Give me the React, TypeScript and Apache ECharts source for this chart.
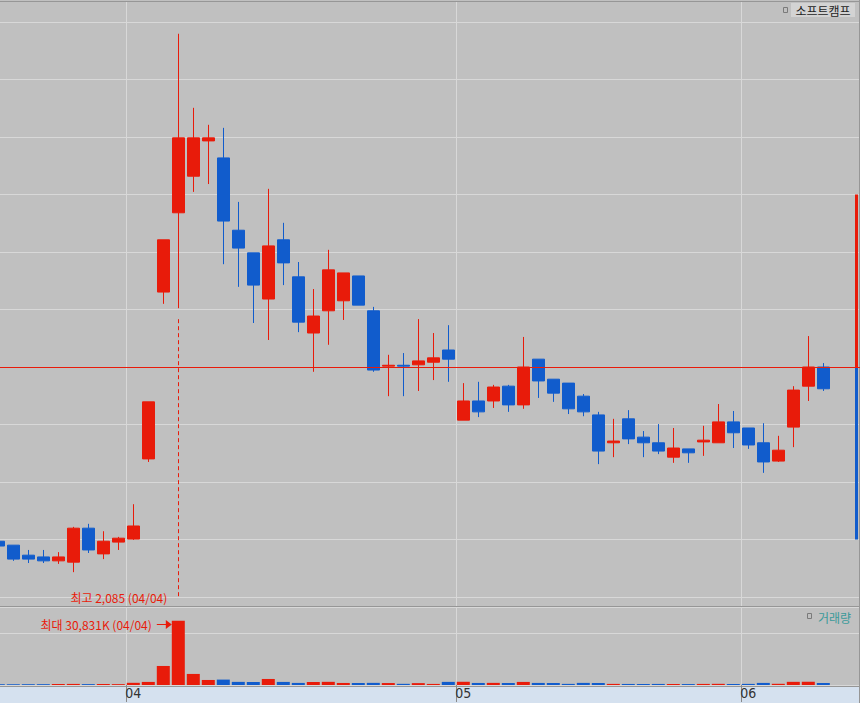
import React, { useEffect, useRef } from 'react';
import * as echarts from 'echarts';

// ---- data (소프트캠프 daily) ----
const dates = [
  '2025-03-19', '2025-03-20', '2025-03-21', '2025-03-24', '2025-03-25', '2025-03-26', '2025-03-27', '2025-03-28',
  '2025-03-31', '2025-04-01', '2025-04-02', '2025-04-03', '2025-04-04', '2025-04-07', '2025-04-08', '2025-04-09',
  '2025-04-10', '2025-04-11', '2025-04-14', '2025-04-15', '2025-04-16', '2025-04-17', '2025-04-18', '2025-04-21',
  '2025-04-22', '2025-04-23', '2025-04-24', '2025-04-25', '2025-04-28', '2025-04-29', '2025-04-30', '2025-05-02',
  '2025-05-07', '2025-05-08', '2025-05-09', '2025-05-12', '2025-05-13', '2025-05-14', '2025-05-15', '2025-05-16',
  '2025-05-19', '2025-05-20', '2025-05-21', '2025-05-22', '2025-05-23', '2025-05-26', '2025-05-27', '2025-05-28',
  '2025-05-29', '2025-05-30', '2025-06-02', '2025-06-04', '2025-06-05', '2025-06-09', '2025-06-10', '2025-06-11',
];
const opens = [
  920, 911, 888, 884, 875, 872, 950, 891, 918, 925, 1109, 1492, 1674, 1758, 1839, 1800,
  1634, 1582, 1476, 1612, 1527, 1398, 1449, 1472, 1529, 1449, 1322, 1324, 1325, 1331, 1359, 1198,
  1242, 1242, 1276, 1233, 1338, 1292, 1283, 1253, 1210, 1146, 1201, 1159, 1146, 1113, 1132, 1148,
  1146, 1194, 1180, 1146, 1104, 1182, 1276, 1320,
];
const highs = [
  923, 911, 900, 900, 895, 953, 960, 943, 930, 1005, 1240, 1612, 2085, 1915, 1876, 1869,
  1699, 1582, 1729, 1651, 1561, 1499, 1589, 1536, 1529, 1458, 1348, 1352, 1430, 1398, 1416, 1283,
  1286, 1279, 1279, 1389, 1338, 1292, 1283, 1258, 1217, 1201, 1221, 1173, 1189, 1180, 1132, 1185,
  1235, 1219, 1180, 1191, 1162, 1276, 1391, 1329,
];
const lows = [
  907, 875, 870, 870, 868, 849, 893, 879, 900, 923, 1102, 1465, 1455, 1722, 1740, 1556,
  1504, 1421, 1382, 1508, 1400, 1309, 1371, 1428, 1462, 1309, 1253, 1253, 1265, 1290, 1286, 1198,
  1205, 1226, 1217, 1224, 1249, 1240, 1212, 1207, 1097, 1113, 1143, 1113, 1120, 1100, 1100, 1116,
  1146, 1134, 1132, 1077, 1102, 1136, 1242, 1265,
];
const closes = [
  909, 879, 879, 875, 884, 950, 900, 920, 927, 955, 1240, 1612, 1846, 1846, 1846, 1655,
  1593, 1508, 1598, 1559, 1423, 1437, 1543, 1536, 1462, 1313, 1324, 1322, 1334, 1341, 1338, 1242,
  1217, 1274, 1233, 1320, 1288, 1260, 1224, 1217, 1127, 1150, 1155, 1146, 1127, 1134, 1123, 1152,
  1194, 1169, 1141, 1102, 1129, 1267, 1320, 1270,
];
// volume, thousand shares
const volumes = [
  380, 420, 390, 400, 450, 520, 430, 470, 410, 1050, 1480, 9150, 30831, 5320, 2420, 2600,
  1500, 1450, 2900, 1480, 1000, 1450, 1520, 980, 950, 1020, 940, 560, 900, 520, 1500, 1550,
  980, 1020, 960, 1480, 990, 970, 540, 1010, 950, 530, 500, 480, 510, 470, 450, 520,
  560, 490, 530, 1000, 580, 1520, 1560, 960,
];
const basePrice = 1320; // 기준가 (previous close)
const upperLimit = 1716; // +30%
const lowerLimit = 924; // -30%
const priceMin = 792;
const priceMax = 2112;
const priceStep = 132;
const volMax = 37500;
const volStep = 25000;
const stockName = '소프트캠프';
const volumeName = '거래량';

const RED = '#e81b0a';
const BLUE = '#115ccc';
const BG = '#c0c0c0';
const GRID = '#d8d8d8';
const BORDER = '#969696';
const KFONT = '"Noto Sans CJK KR", "Noto Sans", sans-serif';

const fmt = (n: number) => String(n).replace(/\B(?=(\d{3})+(?!\d))/g, ',');

export default function App() {
  const ref = useRef<HTMLDivElement>(null);
  useEffect(() => {
    const chart = echarts.init(ref.current!, null, { renderer: 'svg' });
    const cats = [...dates, '', ''];
    const isMonthStart = (i: number) =>
      i > 0 && i < dates.length && dates[i].slice(5, 7) !== dates[i - 1].slice(5, 7);
    const candleData = dates.map((_, i) => [opens[i], closes[i], lows[i], highs[i]]);
    const volData = volumes.map((v, i) => ({
      value: v,
      itemStyle: { color: closes[i] >= opens[i] ? RED : BLUE },
    }));
    let hiIdx = 0;
    highs.forEach((h, i) => { if (h > highs[hiIdx]) hiIdx = i; });
    let vIdx = 0;
    volumes.forEach((v, i) => { if (v > volumes[vIdx]) vIdx = i; });
    const hiDate = dates[hiIdx];
    const vDate = dates[vIdx];
    const gridPos = { left: -9.2, right: -0.8, outerBoundsMode: 'none', containLabel: false };

    chart.setOption({
      animation: false,
      backgroundColor: BG,
      grid: [
        { ...gridPos, top: 22, height: 575 },
        { ...gridPos, top: 607, height: 78 },
        { ...gridPos, top: 1, height: 685 },
      ],
      xAxis: [
        { type: 'category', gridIndex: 0, data: cats, boundaryGap: true, axisLine: { show: false }, axisTick: { show: false }, axisLabel: { show: false }, splitLine: { show: false } },
        {
          type: 'category', gridIndex: 1, data: cats, boundaryGap: true, z: 10,
          axisLine: { show: false },
          axisTick: { show: true, interval: (i: number) => isMonthStart(i), length: 17, lineStyle: { color: '#8a8a8a', width: 1 } },
          axisLabel: {
            show: true, interval: (i: number) => isMonthStart(i), formatter: (v: string) => v.slice(5, 7),
            margin: 1, color: '#333', fontSize: 14, fontFamily: '"Liberation Sans Narrow", "DejaVu Sans Condensed", sans-serif',
          },
          splitLine: { show: false },
        },
        {
          type: 'category', gridIndex: 2, data: cats, boundaryGap: true,
          axisLine: { show: false }, axisTick: { show: false }, axisLabel: { show: false },
          splitLine: { show: true, interval: (i: number) => isMonthStart(i), lineStyle: { color: GRID, width: 1 } },
        },
      ],
      yAxis: [
        { type: 'value', gridIndex: 0, min: priceMin, max: priceMax, interval: priceStep, axisLine: { show: false }, axisTick: { show: false }, axisLabel: { show: false }, splitLine: { show: true, lineStyle: { color: GRID, width: 1 } } },
        { type: 'value', gridIndex: 1, min: 0, max: volMax, interval: volStep, axisLine: { show: false }, axisTick: { show: false }, axisLabel: { show: false }, splitLine: { show: true, lineStyle: { color: GRID, width: 1 } } },
        { type: 'value', gridIndex: 2, min: 0, max: 1, show: false },
      ],
      series: [
        {
          type: 'candlestick', xAxisIndex: 0, yAxisIndex: 0, barWidth: 12, data: candleData, clip: true,
          itemStyle: { color: RED, color0: BLUE, borderColor: RED, borderColor0: BLUE, borderWidth: 1 },
          markLine: {
            silent: true, symbol: ['none', 'none'], label: { show: false },
            lineStyle: { color: RED, width: 1, type: 'solid' },
            data: [{ yAxis: basePrice }],
          },
        },
        { type: 'bar', xAxisIndex: 1, yAxisIndex: 1, barWidth: 13, data: volData },
      ],
    });

    const px = (g: number, x: string, y: number) => chart.convertToPixel({ gridIndex: g }, [x, y]) as number[];
    const hx = px(0, hiDate, highs[hiIdx])[0];
    const hyLow = px(0, hiDate, lows[hiIdx])[1];
    const yBottom = px(0, hiDate, priceMin)[1];
    const yUp = px(0, hiDate, upperLimit)[1];
    const yBase = px(0, hiDate, basePrice)[1];
    const yLow = px(0, hiDate, lowerLimit)[1];
    const [vx, vy] = px(1, vDate, volumes[vIdx]);
    const tip = vx - 6.5;
    const ay = vy + 3.5;
    const dateLabel = (d: string) => d.slice(5).replace('-', '/');

    chart.setOption({
      graphic: [
        { type: 'rect', z: -1, shape: { x: 0, y: 686, width: 859, height: 17 }, style: { fill: '#d5e1ef' } },
        { type: 'line', shape: { x1: 0, y1: 1.5, x2: 859, y2: 1.5 }, style: { stroke: BORDER, lineWidth: 1 } },
        { type: 'line', shape: { x1: 0, y1: 606.5, x2: 859, y2: 606.5 }, style: { stroke: BORDER, lineWidth: 1 } },
        { type: 'line', shape: { x1: 0, y1: 686.5, x2: 859, y2: 686.5 }, style: { stroke: BORDER, lineWidth: 1 } },
        { type: 'line', shape: { x1: 859.5, y1: 0, x2: 859.5, y2: 703 }, style: { stroke: BORDER, lineWidth: 1 } },
        { type: 'rect', shape: { x: 855, y: yUp, width: 3, height: yBase - yUp }, style: { fill: RED } },
        { type: 'rect', shape: { x: 855, y: yBase, width: 3, height: yLow - yBase }, style: { fill: BLUE } },
        {
          type: 'line', shape: { x1: Math.round(hx) + 0.5, y1: hyLow + 11, x2: Math.round(hx) + 0.5, y2: yBottom },
          style: { stroke: RED, lineWidth: 1, lineDash: [4, 3] },
        },
        {
          type: 'text', x: hx - 11, y: yBottom,
          style: { text: `최고 ${fmt(highs[hiIdx])} (${dateLabel(hiDate)})`, fill: RED, font: `12px ${KFONT}`, align: 'right', verticalAlign: 'middle', textAlign: 'right', textVerticalAlign: 'middle' },
        },
        {
          type: 'text', x: tip - 20, y: ay,
          style: { text: `최대 ${fmt(volumes[vIdx])}K (${dateLabel(vDate)})`, fill: RED, font: `12px ${KFONT}`, align: 'right', verticalAlign: 'middle', textAlign: 'right', textVerticalAlign: 'middle' },
        },
        { type: 'line', shape: { x1: tip - 15, y1: Math.round(ay) + 0.5, x2: tip - 5, y2: Math.round(ay) + 0.5 }, style: { stroke: RED, lineWidth: 1 } },
        { type: 'polygon', shape: { points: [[tip - 6, Math.round(ay) - 4], [tip, Math.round(ay) + 0.5], [tip - 6, Math.round(ay) + 5]] }, style: { fill: RED } },
        { type: 'rect', shape: { x: 783.5, y: 7.5, width: 4, height: 5 }, style: { fill: 'none', stroke: '#7a7a7a', lineWidth: 1 } },
        { type: 'rect', shape: { x: 791, y: 3, width: 64, height: 14 }, style: { fill: '#d3d3d3' } },
        { type: 'text', x: 823, y: 10, style: { text: stockName, fill: '#222', font: `12px ${KFONT}`, align: 'center', verticalAlign: 'middle', textAlign: 'center', textVerticalAlign: 'middle' } },
        { type: 'rect', shape: { x: 807.5, y: 613.5, width: 4, height: 5 }, style: { fill: 'none', stroke: '#7a7a7a', lineWidth: 1 } },
        { type: 'text', x: 818, y: 617, style: { text: volumeName, fill: '#3a9a9a', font: `12px ${KFONT}`, align: 'left', verticalAlign: 'middle', textAlign: 'left', textVerticalAlign: 'middle' } },
      ],
    });
    return () => chart.dispose();
  }, []);
  return <div ref={ref} style={{ position: 'absolute', left: 0, top: 0, width: 860, height: 703 }} />;
}
